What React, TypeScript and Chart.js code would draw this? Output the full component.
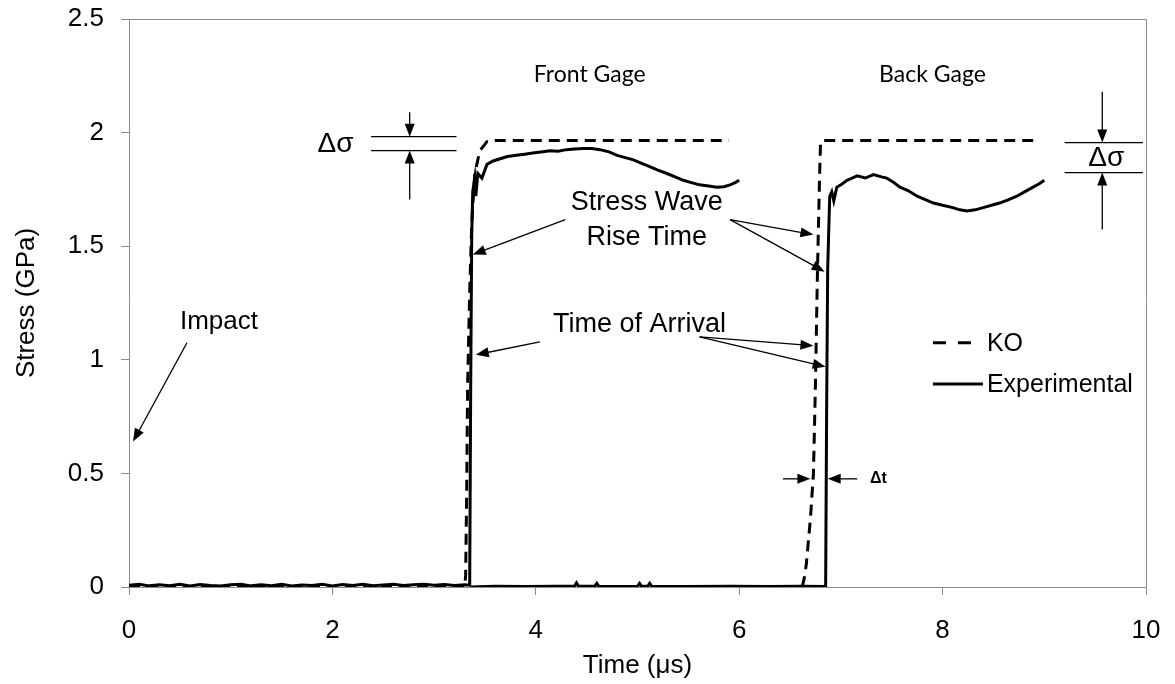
import React, { useEffect, useRef } from "react";
import { Chart, registerables } from "chart.js";
Chart.register(...registerables);

const FONT = 'Arial, "Liberation Sans", sans-serif';
const GAGE_FONT = 'Lato, "Open Sans", sans-serif';

// ---- data ----
const expFrontX = [0, 0.1, 0.2, 0.3, 0.4, 0.5, 0.6, 0.7, 0.8, 0.9, 1.0, 1.1, 1.2, 1.3, 1.4, 1.5, 1.6, 1.7, 1.8, 1.9, 2.0, 2.1, 2.2, 2.3, 2.4, 2.5, 2.6, 2.7, 2.8, 2.9, 3.0, 3.1, 3.2, 3.3, 3.35, 3.36, 3.37, 3.38, 3.4, 3.41, 3.43, 3.47, 3.52, 3.58, 3.65, 3.72, 3.81, 3.89, 3.97, 4.05, 4.14, 4.22, 4.3, 4.38, 4.46, 4.55, 4.63, 4.72, 4.8, 4.88, 4.96, 5.04, 5.12, 5.2, 5.29, 5.37, 5.45, 5.53, 5.61, 5.7, 5.78, 5.85, 5.91, 5.96, 6.0];
const expFrontY = [0.008, 0.012, 0.005, 0.01, 0.006, 0.012, 0.004, 0.011, 0.007, 0.004, 0.01, 0.012, 0.005, 0.01, 0.006, 0.012, 0.004, 0.009, 0.007, 0.012, 0.005, 0.011, 0.007, 0.012, 0.006, 0.009, 0.012, 0.007, 0.01, 0.012, 0.008, 0.011, 0.007, 0.01, 0.008, 0.9, 1.55, 1.74, 1.8, 1.72, 1.82, 1.8, 1.86, 1.875, 1.885, 1.895, 1.9, 1.905, 1.91, 1.915, 1.92, 1.918, 1.925, 1.928, 1.93, 1.93, 1.925, 1.915, 1.9, 1.89, 1.88, 1.865, 1.85, 1.835, 1.82, 1.805, 1.79, 1.78, 1.77, 1.765, 1.76, 1.762, 1.77, 1.78, 1.79];

const expBackX = [3.36, 3.6, 3.9, 4.2, 4.38, 4.4, 4.42, 4.58, 4.6, 4.62, 4.8, 5.0, 5.02, 5.04, 5.1, 5.12, 5.14, 5.5, 5.9, 6.3, 6.6, 6.85, 6.86, 6.87, 6.89, 6.91, 6.93, 6.96, 7.0, 7.06, 7.11, 7.16, 7.24, 7.32, 7.4, 7.45, 7.52, 7.58, 7.66, 7.75, 7.83, 7.91, 8.0, 8.1, 8.17, 8.24, 8.32, 8.4, 8.48, 8.56, 8.65, 8.73, 8.81, 8.89, 8.95, 9.0];
const expBackY = [0.0, 0.003, 0.002, 0.003, 0.003, 0.018, 0.003, 0.003, 0.016, 0.003, 0.002, 0.003, 0.016, 0.003, 0.003, 0.016, 0.003, 0.002, 0.003, 0.002, 0.003, 0.002, 0.8, 1.4, 1.72, 1.74, 1.7, 1.76, 1.77, 1.79, 1.8, 1.81, 1.8, 1.815, 1.805, 1.8, 1.78, 1.76, 1.745, 1.72, 1.705, 1.69, 1.68, 1.67, 1.66, 1.655, 1.66, 1.67, 1.68, 1.69, 1.705, 1.72, 1.74, 1.76, 1.775, 1.79];

const koFrontX = [0, 3.3, 3.31, 3.32, 3.33, 3.35, 3.37, 3.4, 3.45, 3.52, 3.6, 5.9];
const koFrontY = [0, 0, 0.05, 0.4, 0.9, 1.3, 1.6, 1.82, 1.92, 1.96, 1.965, 1.965];
const koBackX = [6.62, 6.64, 6.66, 6.7, 6.73, 6.75, 6.77, 6.79, 6.8, 6.82, 8.92];
const koBackY = [0, 0.04, 0.1, 0.3, 0.5, 0.9, 1.4, 1.8, 1.96, 1.965, 1.965];

const xTickValues = [0, 2, 4, 6, 8, 10];
const yTickValues = [0, 0.5, 1, 1.5, 2, 2.5];

// ---- annotations (data coordinates) ----
const labels = [
  { text: "Front Gage", x: 4.53, y: 2.256, size: 23, bold: false, family: GAGE_FONT },
  { text: "Back Gage", x: 7.9, y: 2.256, size: 23, bold: false, family: GAGE_FONT },
  { text: "Impact", x: 0.885, y: 1.167, size: 26, bold: false, family: FONT },
  { text: "Δσ", x: 2.03, y: 1.947, size: 28, bold: false, family: FONT },
  { text: "Δσ", x: 9.61, y: 1.885, size: 28, bold: false, family: FONT },
  { text: "Stress Wave", x: 5.09, y: 1.69, size: 27, bold: false, family: FONT },
  { text: "Rise Time", x: 5.09, y: 1.537, size: 27, bold: false, family: FONT },
  { text: "Time of Arrival", x: 5.02, y: 1.154, size: 27, bold: false, family: FONT },
  { text: "Δt", x: 7.37, y: 0.476, size: 16, bold: true, family: FONT },
];
const arrows = [
  [0.57, 1.075, 0.04, 0.64],
  [2.76, 2.09, 2.76, 1.982],
  [2.76, 1.705, 2.76, 1.921],
  [9.57, 2.18, 9.57, 1.956],
  [9.57, 1.573, 9.57, 1.824],
  [4.29, 1.617, 3.38, 1.463],
  [5.91, 1.617, 6.73, 1.551],
  [5.91, 1.617, 6.84, 1.388],
  [4.04, 1.079, 3.41, 1.022],
  [5.61, 1.101, 6.73, 1.062],
  [5.61, 1.101, 6.85, 0.969],
  [6.43, 0.476, 6.7, 0.476],
  [7.16, 0.476, 6.87, 0.476],
];
const bars = [
  [2.38, 1.982, 3.22, 1.982],
  [2.38, 1.921, 3.22, 1.921],
  [9.2, 1.956, 9.97, 1.956],
  [9.2, 1.824, 9.97, 1.824],
];
const legendItems = [
  { label: "KO", dash: [13, 12], x: 7.905, y: 1.075 },
  { label: "Experimental", dash: [], x: 7.905, y: 0.894 },
];

const pts = (xs: number[], ys: number[]) => xs.map((x, i) => ({ x, y: ys[i] }));

const annotationPlugin = {
  id: "annotations",
  afterDraw(chart: any) {
    const { ctx, chartArea, scales } = chart;
    const X = (v: number) => scales.x.getPixelForValue(v);
    const Y = (v: number) => scales.y.getPixelForValue(v);
    ctx.save();
    // box top and right
    ctx.strokeStyle = "#8c8c8c";
    ctx.lineWidth = 1;
    ctx.beginPath();
    ctx.moveTo(chartArea.left, chartArea.top + 0.5);
    ctx.lineTo(chartArea.right + 0.5, chartArea.top + 0.5);
    ctx.lineTo(chartArea.right + 0.5, chartArea.bottom);
    ctx.stroke();

    ctx.fillStyle = "#000";
    ctx.strokeStyle = "#000";
    ctx.textAlign = "center";
    ctx.textBaseline = "middle";
    labels.forEach((l) => {
      ctx.font = `${l.bold ? "bold " : ""}${l.size}px ${l.family}`;
      ctx.fillText(l.text, X(l.x), Y(l.y));
    });
    ctx.lineWidth = 1.3;
    bars.forEach(([x1, y1, x2, y2]) => {
      ctx.beginPath();
      ctx.moveTo(X(x1), Y(y1));
      ctx.lineTo(X(x2), Y(y2));
      ctx.stroke();
    });
    arrows.forEach(([x1, y1, x2, y2]) => {
      const px1 = X(x1), py1 = Y(y1), px2 = X(x2), py2 = Y(y2);
      const ang = Math.atan2(py2 - py1, px2 - px1);
      const L = 13, W = 5;
      ctx.beginPath();
      ctx.moveTo(px1, py1);
      ctx.lineTo(px2 - Math.cos(ang) * L * 0.8, py2 - Math.sin(ang) * L * 0.8);
      ctx.stroke();
      ctx.beginPath();
      ctx.moveTo(px2, py2);
      ctx.lineTo(px2 - Math.cos(ang) * L - Math.sin(ang) * W, py2 - Math.sin(ang) * L + Math.cos(ang) * W);
      ctx.lineTo(px2 - Math.cos(ang) * L + Math.sin(ang) * W, py2 - Math.sin(ang) * L - Math.cos(ang) * W);
      ctx.closePath();
      ctx.fill();
    });
    // legend
    ctx.textAlign = "left";
    ctx.font = `25px ${FONT}`;
    legendItems.forEach((it) => {
      const x0 = X(it.x), y0 = Y(it.y);
      ctx.lineWidth = 3;
      ctx.setLineDash(it.dash);
      ctx.beginPath();
      ctx.moveTo(x0, y0);
      ctx.lineTo(x0 + 50, y0);
      ctx.stroke();
      ctx.setLineDash([]);
      ctx.fillText(it.label, x0 + 54, y0 + 1);
    });
    ctx.restore();
  },
};

export default function App() {
  const ref = useRef<HTMLCanvasElement>(null);
  useEffect(() => {
    document.body.style.margin = "0";
    const axisCommon = {
      type: "linear" as const,
      border: { display: true, color: "#8c8c8c", width: 1 },
      grid: { display: true, drawOnChartArea: false, drawTicks: true, tickLength: 8, color: "#8c8c8c" },
    };
    const fmt = (v: any) => String(Number(v));
    const chart = new Chart(ref.current!, {
      type: "line",
      data: {
        datasets: [
          { label: "KO", data: pts(koFrontX, koFrontY), borderColor: "#000", borderWidth: 3, borderDash: [11, 7], pointRadius: 0, fill: false, tension: 0 },
          { label: "KO", data: pts(koBackX, koBackY), borderColor: "#000", borderWidth: 3, borderDash: [11, 7], pointRadius: 0, fill: false, tension: 0 },
          { label: "Experimental", data: pts(expFrontX, expFrontY), borderColor: "#000", borderWidth: 3, pointRadius: 0, fill: false, tension: 0 },
          { label: "Experimental", data: pts(expBackX, expBackY), borderColor: "#000", borderWidth: 3, pointRadius: 0, fill: false, tension: 0 },
        ],
      },
      options: {
        responsive: false,
        animation: false,
        layout: { padding: { left: 0, top: 19, right: 29, bottom: 0 } },
        plugins: { legend: { display: false }, tooltip: { enabled: false } },
        scales: {
          x: {
            ...axisCommon,
            min: 0,
            max: 10,
            afterBuildTicks: (s: any) => { s.ticks = xTickValues.map((v) => ({ value: v })); },
            afterFit: (s: any) => { s.height = 97; s.paddingLeft = 0; s.paddingRight = 0; s.paddingTop = 0; s.paddingBottom = 0; },
            ticks: { color: "#000", font: { family: FONT, size: 26 }, padding: 20, maxRotation: 0, callback: fmt },
            title: { display: true, text: "Time (μs)", color: "#000", font: { family: FONT, size: 26 }, padding: { top: 0, bottom: 3 } },
          },
          y: {
            ...axisCommon,
            min: 0,
            max: 2.5,
            afterBuildTicks: (s: any) => { s.ticks = yTickValues.map((v) => ({ value: v })); },
            afterFit: (s: any) => { s.width = 129; s.paddingLeft = 0; s.paddingRight = 0; s.paddingTop = 0; s.paddingBottom = 0; },
            ticks: { color: "#000", font: { family: FONT, size: 26 }, padding: 17, callback: fmt },
            title: { display: true, text: "Stress (GPa)", color: "#000", font: { family: FONT, size: 26 }, padding: { top: 11, bottom: 0 } },
          },
        },
      },
      plugins: [annotationPlugin],
    });
    return () => chart.destroy();
  }, []);
  return (
    <div style={{ position: "absolute", left: 0, top: 0, width: 1175, height: 684, background: "#fff" }}>
      <canvas ref={ref} width={1175} height={684} />
    </div>
  );
}
